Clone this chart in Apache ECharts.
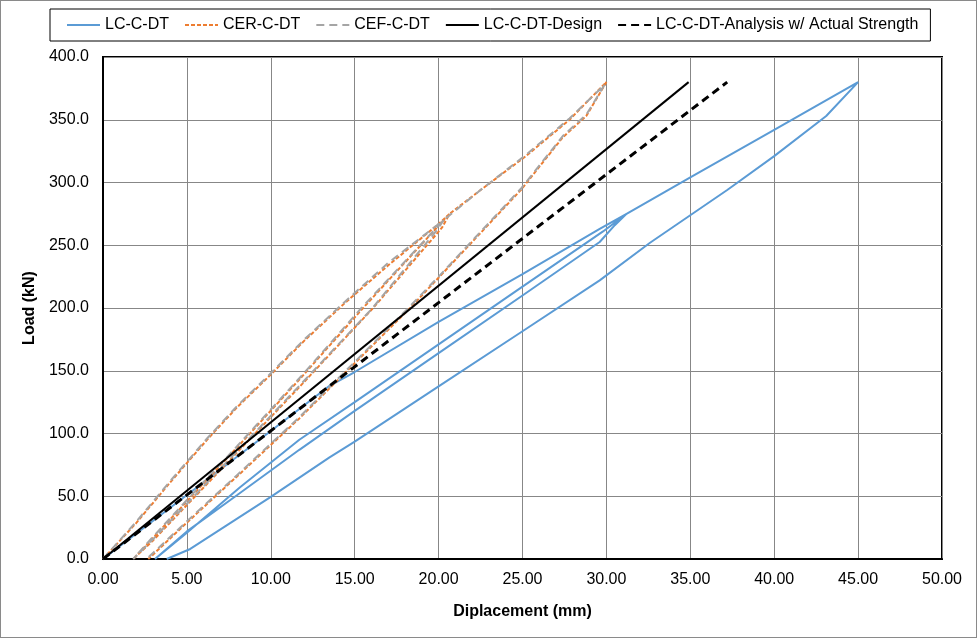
<!DOCTYPE html>
<html>
<head>
<meta charset="utf-8">
<script src="https://cdn.jsdelivr.net/npm/echarts@6/dist/echarts.min.js"></script>
<style>
  html, body { margin: 0; padding: 0; background: #fff; }
  #chart { width: 977px; height: 638px; box-sizing: border-box; border: 1px solid #8a8a8a; }
</style>
</head>
<body>
<div id="chart"></div>
<script>
// LC-C-DT (two load cycles, 275 kN and 380 kN)
const lcDisp = [0, 5, 10, 13.5, 15, 20, 25, 29.6, 31.2,
  30.5, 29.6, 25, 20, 15, 11.7, 8, 5, 3.1,
  5, 8.15, 11.7, 15, 20, 25, 29.8, 31.2, 35, 40, 45,
  43.1, 40, 37.2, 32.6, 29.6, 25, 20, 15, 13.5, 10, 5.2, 3.8];
const lcLoad = [0, 51, 102, 138, 149, 189, 227, 263, 275,
  266, 252.6, 210, 164, 118, 87, 51, 22, 0,
  21, 57, 95, 125, 171, 217, 261, 275, 304, 342, 380,
  353, 321, 294, 252, 222, 181.5, 137.5, 93.5, 81, 49.5, 8, 0];

// CER-C-DT
const cerDisp = [0, 2, 4, 6.2, 8, 10, 12, 14.5, 17, 20, 20.65,
  20.2, 16.1, 11.7, 8, 5, 3, 1.8,
  3, 5, 8, 11.7, 15.5, 20.65, 22.5, 25.2, 27.8, 30,
  28.8, 27.4, 24.9, 20.06, 18.3, 15, 11.7, 8, 5, 2.7];
const cerLoad = [0, 29, 61, 95, 121, 147, 174, 205, 234, 267, 275,
  264, 200, 137, 85, 43, 15, 0,
  17, 46, 89, 143, 200, 275, 294, 321, 350, 380,
  353, 336, 294, 225, 200, 156, 112, 66, 29, 0];

// CEF-C-DT
const cefDisp = [0, 2, 4, 6.2, 8, 10, 12, 14.5, 17, 20.3,
  19.9, 16, 11.7, 8, 5, 3, 1.8,
  3, 5, 8, 11.7, 15.4, 20.3, 22.5, 25.2, 27.8, 29.9,
  28.8, 27.4, 24.9, 20, 18.2, 15, 11.7, 8, 5, 2.6];
const cefLoad = [0, 30, 62, 96, 122, 148, 175, 206, 236, 270,
  262, 199, 138, 86, 44, 16, 0,
  18, 47, 90, 144, 200, 270, 294, 322, 351, 378,
  354, 337, 295, 225, 200, 157, 113, 67, 30, 0];

// design and analysis lines
const designDisp = [0, 34.9];
const designLoad = [0, 380];
const analysisDisp = [0, 37.2];
const analysisLoad = [0, 380];

const zip = (xs, ys) => xs.map((x, i) => [x, ys[i]]);

const FONT = '"Liberation Sans", Arial, sans-serif';
const FS = 16;

const chart = echarts.init(document.getElementById('chart'));
chart.setOption({
  animation: false,
  textStyle: { fontFamily: FONT },
  grid: { left: 102, right: 34, top: 56, bottom: 78, show: true, borderColor: '#000', borderWidth: 2 },
  legend: {
    left: 49, top: 8,
    padding: [8, 12, 8, 16],
    borderColor: '#000', borderWidth: 1,
    itemWidth: 33, itemHeight: 14, itemGap: 15,
    itemStyle: { opacity: 0 },
    textStyle: { fontFamily: FONT, fontSize: FS, color: '#000' },
    data: ['LC-C-DT', 'CER-C-DT', 'CEF-C-DT', 'LC-C-DT-Design', 'LC-C-DT-Analysis w/ Actual Strength']
  },
  xAxis: {
    type: 'value', min: 0, max: 50, interval: 5,
    name: 'Diplacement (mm)', nameLocation: 'middle', nameGap: 45,
    nameTextStyle: { fontFamily: FONT, fontSize: FS, fontWeight: 'bold', color: '#000' },
    axisLine: { lineStyle: { color: '#000', width: 2 } },
    axisTick: { show: false },
    axisLabel: { margin: 13, fontSize: FS, color: '#000', formatter: v => v.toFixed(2) },
    splitLine: { lineStyle: { color: '#878787', width: 1 } }
  },
  yAxis: {
    type: 'value', min: 0, max: 400, interval: 50,
    name: 'Load (kN)', nameLocation: 'middle', nameGap: 57,
    nameTextStyle: { fontFamily: FONT, fontSize: FS, fontWeight: 'bold', color: '#000' },
    axisLine: { show: true, lineStyle: { color: '#000', width: 2 } },
    axisTick: { show: false },
    axisLabel: { margin: 14, fontSize: FS, color: '#000', formatter: v => v.toFixed(1) },
    splitLine: { lineStyle: { color: '#878787', width: 1 } }
  },
  series: [
    { name: 'LC-C-DT', type: 'line', symbol: 'none', data: zip(lcDisp, lcLoad),
      lineStyle: { color: '#5B9BD5', width: 2 }, itemStyle: { color: '#5B9BD5' } },
    { name: 'CER-C-DT', type: 'line', symbol: 'none', data: zip(cerDisp, cerLoad),
      lineStyle: { color: '#ED7D31', width: 2, type: [4, 2] }, itemStyle: { color: '#ED7D31' } },
    { name: 'CEF-C-DT', type: 'line', symbol: 'none', data: zip(cefDisp, cefLoad),
      lineStyle: { color: '#A5A5A5', width: 2, type: [8, 5] }, itemStyle: { color: '#A5A5A5' } },
    { name: 'LC-C-DT-Design', type: 'line', symbol: 'none', data: zip(designDisp, designLoad),
      lineStyle: { color: '#000', width: 2 }, itemStyle: { color: '#000' } },
    { name: 'LC-C-DT-Analysis w/ Actual Strength', type: 'line', symbol: 'none', data: zip(analysisDisp, analysisLoad),
      lineStyle: { color: '#000', width: 3, type: [8, 5] }, itemStyle: { color: '#000' } }
  ]
});
</script>
</body>
</html>
